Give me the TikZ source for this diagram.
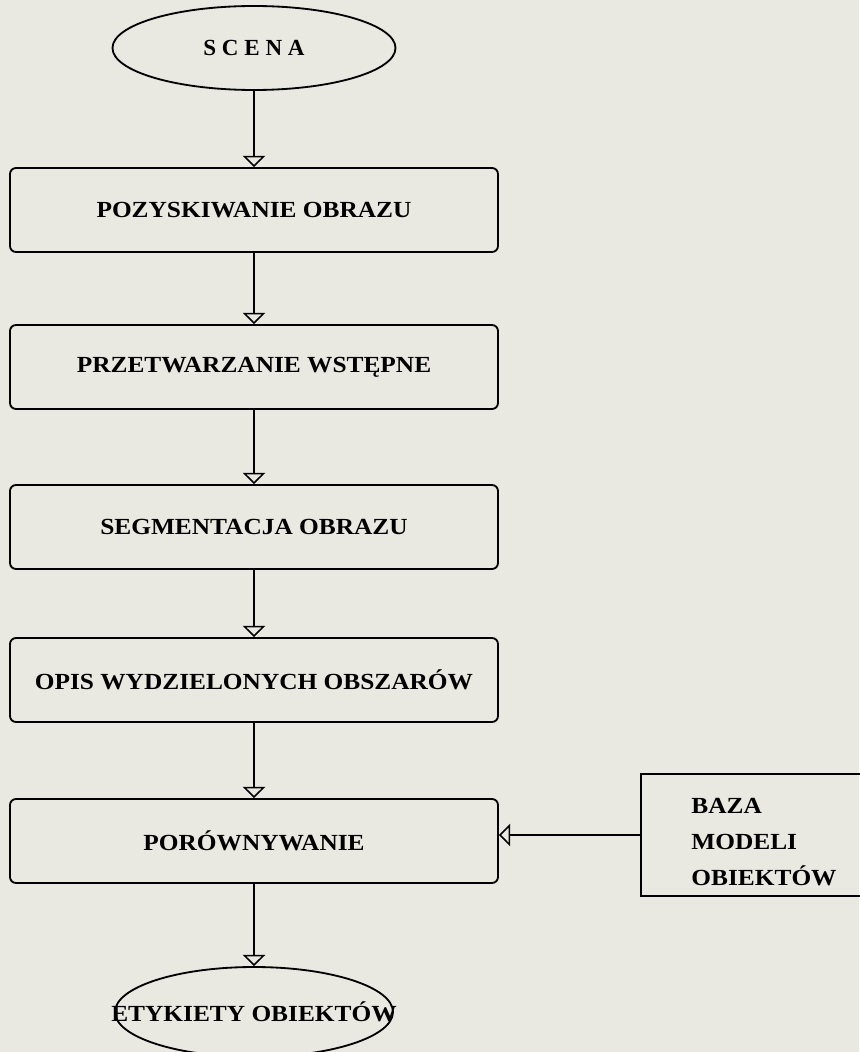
\documentclass[tikz,border=0pt]{standalone}
\usepackage{fontspec}
\setmainfont[FakeStretch=1.1]{Liberation Serif}
\newfontfamily\spacedfont[LetterSpace=25]{Liberation Serif}
\usetikzlibrary{shapes.geometric, arrows.meta}
\tikzset{>={Triangle[open, length=8pt, width=16pt]}}
\definecolor{paper}{RGB}{233,233,225}
\def\pagewidth{21.475}
\def\pageheight{26.3}
\def\midx{6.35}
\def\boxwidth{12.2cm}
\def\boxheight{2.1cm}

\begin{document}
\begin{tikzpicture}[
  stage/.style={draw=black, line width=1.3pt, rounded corners=0.15cm, minimum width=\boxwidth, minimum height=\boxheight, font=\bfseries\fontsize{16.4}{19}\selectfont},
  terminal/.style={draw=black, line width=1.3pt, ellipse, inner sep=0pt, font=\bfseries\fontsize{16.4}{19}\selectfont},
  link/.style={->, line width=1.1pt}
]

% Page
\useasboundingbox (0,0) rectangle (\pagewidth,-\pageheight);
\fill[paper] (0,0) rectangle (\pagewidth,-\pageheight);

% Start
\node[terminal, minimum width=7.075cm, minimum height=2.1cm] (scena) at (\midx,-1.2) {\spacedfont\bfseries\fontsize{16.4}{19}\selectfont SCENA};

% Stages
\node[stage] (pozyskiwanie) at (\midx,-5.25) {POZYSKIWANIE OBRAZU};
\node[stage] (przetwarzanie) at (\midx,-9.175) {PRZETWARZANIE WSTĘPNE};
\node[stage] (segmentacja) at (\midx,-13.175) {SEGMENTACJA OBRAZU};
\node[stage] (opis) at (\midx,-17.0) {OPIS WYDZIELONYCH OBSZARÓW};
\node[stage] (porownywanie) at (\midx,-21.025) {PORÓWNYWANIE};

% Model base
\node[draw=black, line width=1.3pt, minimum width=6.15cm, minimum height=3.05cm, align=left, font=\bfseries\fontsize{16.4}{25.5}\selectfont] (baza) at (19.1,-20.875) {\rule{0pt}{21pt}BAZA\\MODELI\\OBIEKTÓW};

% End
\node[terminal, minimum width=6.95cm, minimum height=2.25cm] (etykiety) at (\midx,-25.3) {\makebox[0pt]{ETYKIETY OBIEKTÓW}};

% Flow
\draw[link] (scena) -- (pozyskiwanie);
\draw[link] (pozyskiwanie) -- (przetwarzanie);
\draw[link] (przetwarzanie) -- (segmentacja);
\draw[link] (segmentacja) -- (opis);
\draw[link] (opis) -- (porownywanie);
\draw[link] (porownywanie) -- (etykiety);
\draw[link] (baza.west) -- (baza.west -| porownywanie.east);

\end{tikzpicture}
\end{document}
